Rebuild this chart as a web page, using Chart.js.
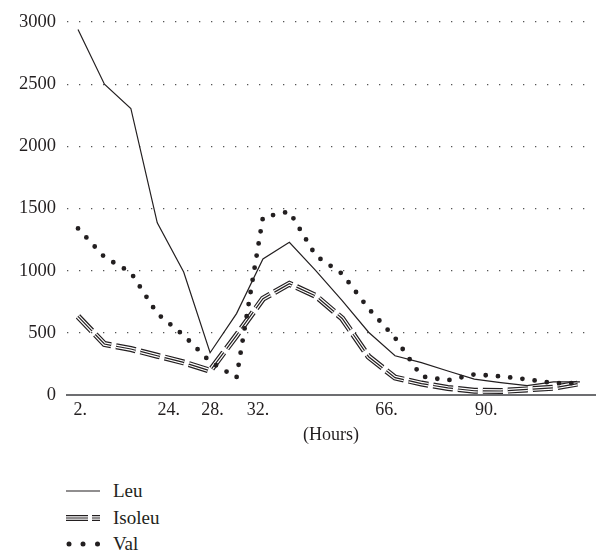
<!DOCTYPE html>
<html>
<head>
<meta charset="utf-8">
<script src="https://cdn.jsdelivr.net/npm/chart.js@4.4.0/dist/chart.umd.min.js"></script>
<style>
    html, body { margin: 0; padding: 0; background: #fff; }
    #wrap { position: relative; width: 597px; height: 556px; }
    #chartBox { position: absolute; left: 0; top: 0; width: 597px; height: 460px; }
    #legend {
        position: absolute; left: 66px; top: 478px;
        font-family: "Liberation Serif", serif; font-size: 19px; color: #231f20;
    }
    .row { display: flex; align-items: center; height: 26.5px; }
    .row svg { width: 34px; height: 10px; margin-right: 13px; }
</style>
</head>
<body>
<div id="wrap">
    <div id="chartBox"><canvas id="lineChart"></canvas></div>
    <div id="legend">
        <div class="row">
            <svg viewBox="0 0 34 10"><line x1="0" y1="5" x2="34" y2="5" stroke="#231f20" stroke-width="1.2"/></svg>
            <span>Leu</span>
        </div>
        <div class="row">
            <svg viewBox="0 0 34 10">
                <line x1="0" y1="5" x2="34" y2="5" stroke="#231f20" stroke-width="6" stroke-dasharray="22 4"/>
                <line x1="0" y1="5" x2="34" y2="5" stroke="#fff" stroke-width="3.6" stroke-dasharray="22 4"/>
                <line x1="0" y1="5" x2="34" y2="5" stroke="#231f20" stroke-width="1.2" stroke-dasharray="22 4"/>
            </svg>
            <span>Isoleu</span>
        </div>
        <div class="row">
            <svg viewBox="0 0 34 10">
                <circle cx="3" cy="5" r="2.5" fill="#231f20"/>
                <circle cx="17" cy="5" r="2.5" fill="#231f20"/>
                <circle cx="31.5" cy="5" r="2.5" fill="#231f20"/>
            </svg>
            <span>Val</span>
        </div>
    </div>
</div>
<script>
// sampling points (evenly spaced along the axis)
const sampleIndex = [0, 1, 2, 3, 4, 5, 6, 7, 8, 9, 10, 11, 12, 13, 14, 15, 16, 17, 18, 19];

const leuValues = [2940, 2500, 2305, 1385, 990, 340, 655, 1095, 1228, 1000, 760, 505, 316, 260, 193, 128, 100, 75, 105, 105];
const isoleuValues = [632, 410, 370, 316, 262, 195, 480, 775, 895, 797, 616, 308, 140, 92, 57, 34, 32, 45, 58, 95];
const valValues = [1340, 1110, 985, 655, 480, 268, 140, 1430, 1476, 1121, 975, 695, 460, 150, 118, 166, 150, 126, 95, 95];

// x tick labels and where they sit
const hourLabels = ['2.', '24.', '28.', '32.', '66.', '90.'];
const hourLabelPos = [0.08, 3.43, 5.09, 6.81, 11.68, 15.45];

const yTicks = [0, 500, 1000, 1500, 2000, 2500, 3000];

const ink = '#231f20';
const serif = 'Liberation Serif';

function pts(values) {
    return values.map((v, i) => ({ x: sampleIndex[i], y: v }));
}

const ctx = document.getElementById('lineChart');

new Chart(ctx, {
    type: 'line',
    data: {
        datasets: [
            {
                label: 'Val',
                data: pts(valValues),
                borderColor: ink,
                borderWidth: 4.8,
                borderCapStyle: 'round',
                borderDash: [0, 12.3],
                pointRadius: 0,
                tension: 0,
                order: 0
            },
            {
                label: 'Leu',
                data: pts(leuValues),
                borderColor: ink,
                borderWidth: 1.2,
                pointRadius: 0,
                tension: 0,
                order: 1
            },
            // Isoleu is three stacked dashed strokes -> triple line look
            {
                label: 'Isoleu',
                data: pts(isoleuValues),
                borderColor: ink,
                borderWidth: 1.2,
                borderDash: [20, 5],
                pointRadius: 0,
                tension: 0,
                order: 2
            },
            {
                label: 'Isoleu-gap',
                data: pts(isoleuValues),
                borderColor: '#ffffff',
                borderWidth: 3.6,
                borderDash: [20, 5],
                pointRadius: 0,
                tension: 0,
                order: 3
            },
            {
                label: 'Isoleu-outer',
                data: pts(isoleuValues),
                borderColor: ink,
                borderWidth: 6,
                borderDash: [20, 5],
                pointRadius: 0,
                tension: 0,
                order: 4
            }
        ]
    },
    options: {
        responsive: true,
        maintainAspectRatio: false,
        animation: false,
        layout: {
            padding: { top: 4, right: 2, bottom: 14, left: 0 }
        },
        plugins: {
            legend: { display: false },
            tooltip: { enabled: false }
        },
        scales: {
            x: {
                type: 'linear',
                min: -0.417,
                max: 19.57,
                grid: { display: false, drawTicks: false },
                border: { display: true, color: '#6d6e71', width: 2 },
                afterBuildTicks: (scale) => {
                    scale.ticks = hourLabelPos.map(v => ({ value: v }));
                },
                afterFit: (scale) => { scale.height = 51; },
                ticks: {
                    autoSkip: false,
                    maxRotation: 0,
                    padding: 4,
                    color: ink,
                    font: { family: serif, size: 18 },
                    callback: (val, idx) => hourLabels[idx]
                },
                title: {
                    display: true,
                    text: '(Hours)',
                    color: ink,
                    padding: 0,
                    font: { family: serif, size: 18 }
                }
            },
            y: {
                min: 0,
                max: 3000,
                afterBuildTicks: (scale) => {
                    scale.ticks = yTicks.map(v => ({ value: v }));
                },
                afterFit: (scale) => { scale.width = 67; },
                grid: {
                    drawTicks: false,
                    color: '#555',
                    lineWidth: 1.3
                },
                border: { display: false, dash: [1.3, 10.7] },
                ticks: {
                    padding: 11,
                    color: ink,
                    font: { family: serif, size: 18.5 },
                    callback: (val) => String(val)
                }
            }
        }
    }
});
</script>
</body>
</html>
